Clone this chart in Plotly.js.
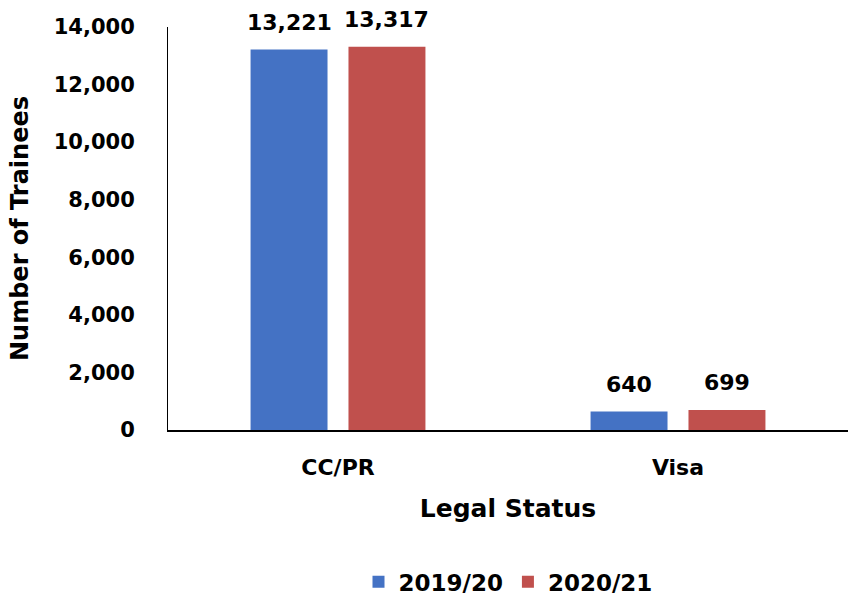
<!DOCTYPE html>
<html><head><meta charset="utf-8">
<script src="https://cdn.plot.ly/plotly-3.0.1.min.js"></script>
<style>html,body{margin:0;padding:0;background:#fff}</style>
</head><body>
<div id="chart" style="width:848px;height:596px"></div>
<script>
const categories = ["CC/PR", "Visa"];
const series2019 = [13221, 640];
const series2020 = [13317, 699];
const seriesNames = ["2019/20", "2020/21"];
const yTicks = [0, 2000, 4000, 6000, 8000, 10000, 12000, 14000];

const F = "'DejaVu Sans', sans-serif";
const bargap = 0.424, bargroupgap = 0.214;
const mk = (name, vals, color) => ({
  type: "bar", name: name, x: categories, y: vals,
  marker: {color: color}, hoverinfo: "none"
});
const data = [mk(seriesNames[0], series2019, "#4472C4"), mk(seriesNames[1], series2020, "#C0504D")];

// value labels placed above each bar (centre offsets derived from the group layout)
const slot = (1 - bargap) / 2;
const annotations = [];
[series2019, series2020].forEach((vals, s) => {
  const off = (s - 0.5) * slot;
  vals.forEach((v, i) => annotations.push({
    x: i + off, y: v, xref: "x", yref: "y",
    text: v.toLocaleString("en-US"), showarrow: false,
    yanchor: "middle", yshift: 27,
    font: {family: F, size: 22, color: "#000", weight: "bold"}
  }));
});

const layout = {
  width: 848, height: 596,
  margin: {l: 168, r: 0, t: 27, b: 166},
  paper_bgcolor: "#fff", plot_bgcolor: "#fff",
  barmode: "group", bargap: bargap, bargroupgap: bargroupgap,
  font: {family: F, color: "#000", weight: "bold"},
  xaxis: {
    showline: true, linecolor: "#000", linewidth: 2, ticks: "",
    tickfont: {family: F, size: 22, weight: "bold"},
    ticklabelstandoff: 17,
    title: {text: "Legal Status", font: {family: F, size: 25, weight: "bold"}, standoff: 20}
  },
  yaxis: {
    range: [0, 14000], tickvals: yTicks, ticktext: yTicks.map(v => v.toLocaleString("en-US")),
    showline: true, linecolor: "#000", linewidth: 1, showgrid: false, zeroline: false, ticks: "",
    tickfont: {family: F, size: 21, weight: "bold"},
    ticklabelstandoff: 28,
    title: {text: "Number of Trainees", font: {family: F, size: 24, weight: "bold"}, standoff: 18}
  },
  annotations: annotations,
  legend: {orientation: "h", x: 0.5, xref: "paper", xanchor: "center",
    yref: "container", y: 0.024, yanchor: "middle",
    font: {family: F, size: 23, weight: "bold"}, itemwidth: 30, traceorder: "normal"},
  showlegend: true
};
Plotly.newPlot("chart", data, layout, {displayModeBar: false, staticPlot: true});
</script>
</body></html>
